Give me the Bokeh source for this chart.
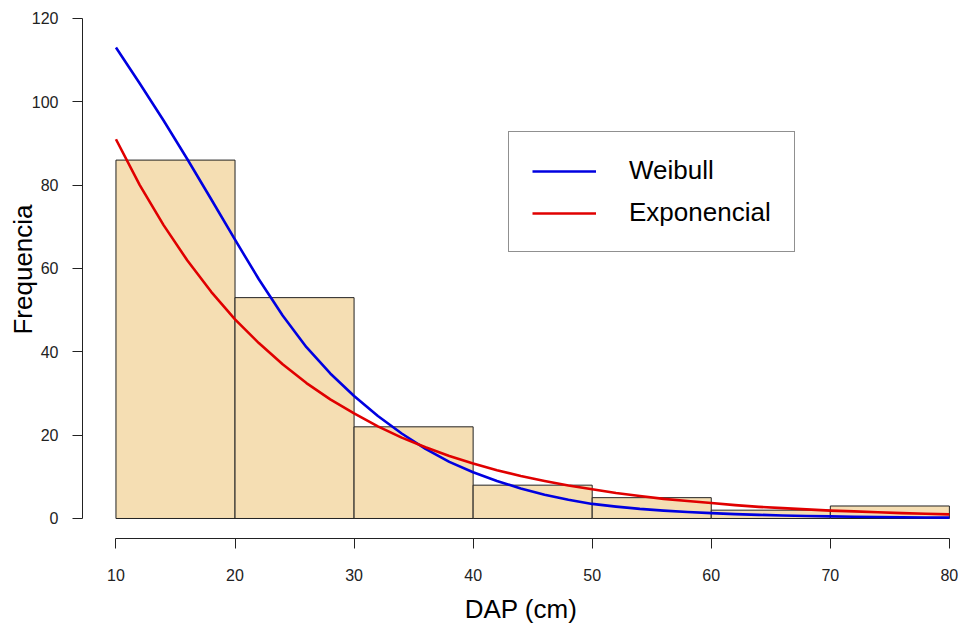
from bokeh.plotting import figure
from bokeh.models import Range1d, Legend, LegendItem, FixedTicker
from bokeh.embed import file_html
from bokeh.resources import INLINE

# ---- data ----
bin_left = [10, 20, 30, 40, 50, 60, 70]
bin_right = [20, 30, 40, 50, 60, 70, 80]
counts = [86, 53, 22, 8, 5, 2, 3]

dap = [10, 12, 14, 16, 18, 20, 22, 24, 26, 28, 30, 32, 34, 36, 38, 40, 42, 44,
       46, 48, 50, 52, 54, 56, 58, 60, 62, 64, 66, 68, 70, 72, 74, 76, 78, 80]
weibull = [113.0, 104.4, 95.5, 86.2, 76.6, 66.9, 57.4, 48.7, 41.1, 34.8, 29.4, 24.6,
           20.4, 16.7, 13.6, 11.1, 9.0, 7.2, 5.7, 4.5, 3.5, 2.85, 2.3, 1.9, 1.55, 1.3,
           1.05, 0.88, 0.73, 0.6, 0.5, 0.42, 0.35, 0.29, 0.24, 0.2]
exponencial = [91.0, 80.0, 70.4, 61.9, 54.4, 47.8, 42.1, 37.0, 32.5, 28.6, 25.2, 22.1,
               19.4, 17.1, 15.0, 13.2, 11.6, 10.2, 9.0, 7.9, 7.0, 6.1, 5.4, 4.7, 4.2, 3.7,
               3.2, 2.8, 2.5, 2.2, 1.9, 1.7, 1.5, 1.3, 1.15, 1.0]

x_ticks = [10, 20, 30, 40, 50, 60, 70, 80]
y_ticks = [0, 20, 40, 60, 80, 100, 120]
series_names = ["Weibull", "Exponencial"]

FONT = "Liberation Sans"

p = figure(width=959, height=629, output_backend="svg", toolbar_location=None,
           x_range=Range1d(7.19, 80.85), y_range=Range1d(-4.8, 124.3),
           min_border_left=82, min_border_right=0, min_border_top=0,
           min_border_bottom=91)
p.outline_line_color = None
p.xgrid.visible = False
p.ygrid.visible = False
p.background_fill_color = "white"
p.border_fill_color = "white"

p.quad(left=bin_left, right=bin_right, top=counts, bottom=0,
       fill_color="#F5DEB3", line_color="#222222", line_width=1)

r_w = p.line(dap, weibull, line_color="#0000E0", line_width=2.6, line_join="round")
r_e = p.line(dap, exponencial, line_color="#E00000", line_width=2.6, line_join="round")

for ax in (p.xaxis[0], p.yaxis[0]):
    ax.axis_line_color = "#222222"
    ax.major_tick_line_color = "#222222"
    ax.minor_tick_line_color = None
    ax.major_tick_out = 10
    ax.major_tick_in = 0
    ax.major_label_text_font = FONT
    ax.major_label_text_font_size = "16px"
    ax.major_label_text_color = "#222222"
    ax.axis_label_text_font = FONT
    ax.axis_label_text_font_size = "26px"
    ax.axis_label_text_font_style = "normal"
    ax.axis_label_text_color = "black"

p.xaxis[0].major_label_standoff = 20
p.yaxis[0].major_label_standoff = 14
p.xaxis[0].ticker = FixedTicker(ticks=x_ticks)
p.yaxis[0].ticker = FixedTicker(ticks=y_ticks)
p.xaxis[0].bounds = (10, 80)
p.yaxis[0].bounds = (0, 120)
p.xaxis[0].axis_label = "DAP (cm)"
p.yaxis[0].axis_label = "Frequencia"
p.xaxis[0].axis_label_standoff = 10
p.yaxis[0].axis_label_standoff = -9
p.yaxis[0].major_label_orientation = "horizontal"

legend = Legend(items=[LegendItem(label=series_names[0], renderers=[r_w]),
                       LegendItem(label=series_names[1], renderers=[r_e])],
                location=(426, 286), orientation="vertical",
                border_line_color="#222222", border_line_width=1,
                background_fill_color="white", background_fill_alpha=1.0,
                label_text_font=FONT, label_text_font_size="26px",
                label_text_color="black",
                glyph_width=64, glyph_height=30, label_height=30,
                label_standoff=33, spacing=11, padding=23, margin=0)
p.add_layout(legend)

open("out.html", "w").write(file_html(p, INLINE))
